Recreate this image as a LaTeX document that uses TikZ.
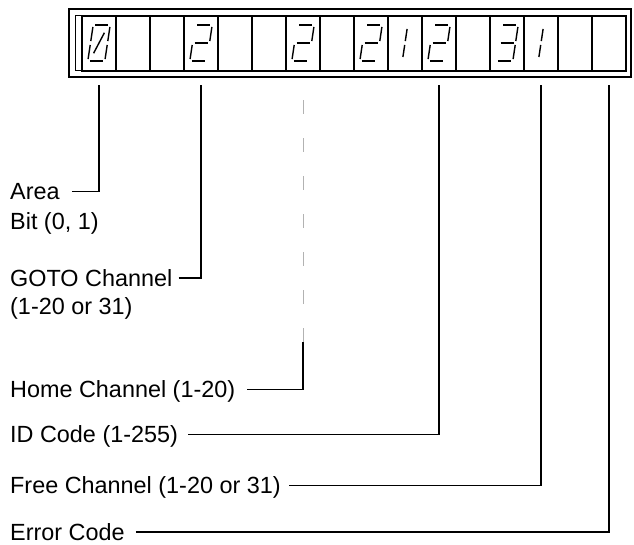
\documentclass[tikz,border=0pt]{standalone}
\usepackage{fontspec}
\setmainfont{Liberation Sans}

% seven segment digit in cell #1, segments #2
\newcommand{\ledigit}[2]{%
  \begin{scope}[shift={({99+34*#1-11.2},61)}, yscale=-1, xslant=-0.15]
    \coordinate (TL) at (0,36);   \coordinate (TR) at (17,36);
    \coordinate (ML) at (0,18);   \coordinate (MR) at (17,18);
    \coordinate (BL) at (0,0);    \coordinate (BR) at (17,0);
    \coordinate (TC) at (8.5,34); \coordinate (MC) at (8.5,18);
    \coordinate (BC) at (8.5,2);
    \coordinate (SL) at (4,6);    \coordinate (SR) at (13,30);
    \foreach \p/\q in {#2} \draw[seg] (\p) -- (\q);
  \end{scope}}

\begin{document}
\begin{tikzpicture}[x=1pt, y=-1pt,
    frame/.style={draw, line width=1.4pt},
    cell/.style={draw, line width=1.1pt, minimum width=34pt, minimum height=55pt, inner sep=0pt, outer sep=0pt},
    seg/.style={line width=1.4pt, shorten <=2pt, shorten >=2pt},
    lbl/.style={anchor=west, inner sep=0pt, text height=16.8pt, text depth=0pt, font=\fontsize{23.4}{28}\selectfont},
    lead/.style={line width=1.3pt},
    fadedlead/.style={line width=0.7pt, draw=gray!60, dash pattern=on 14pt off 24pt}]
  \useasboundingbox (0,0) rectangle (634,545);

  % Display panel
  \draw[frame] (69,9) rectangle (631,77);
  \draw[line width=1pt] (75,16) rectangle (626,71);
  \foreach \i in {0,...,15}
    \node[cell] (c\i) at ({99+34*\i},43.5) {};

  % Digits
  \ledigit{0}{TL/TR,TR/MR,MR/BR,BL/BR,BL/ML,ML/TL,SL/SR}
  \ledigit{3}{TL/TR,TR/MR,ML/MR,ML/BL,BL/BR}
  \ledigit{6}{TL/TR,TR/MR,ML/MR,ML/BL,BL/BR}
  \ledigit{8}{TL/TR,TR/MR,ML/MR,ML/BL,BL/BR}
  \ledigit{9}{TC/MC,MC/BC}
  \ledigit{10}{TL/TR,TR/MR,ML/MR,ML/BL,BL/BR}
  \ledigit{12}{TL/TR,TR/MR,ML/MR,MR/BR,BL/BR}
  \ledigit{13}{TC/MC,MC/BC}

  % Labels
  \node[lbl] (area) at (10,191.5) {Area};
  \node[lbl] (bit) at (10,221.5) {Bit (0, 1)};
  \node[lbl] (goto) at (10,278) {GOTO Channel};
  \node[lbl] (gotorange) at (10,306.5) {(1-20 or 31)};
  \node[lbl] (home) at (10,389.5) {Home Channel (1-20)};
  \node[lbl] (id) at (10,434.5) {ID Code (1-255)};
  \node[lbl] (free) at (10,485.5) {Free Channel (1-20 or 31)};
  \node[lbl] (error) at (10,532) {Error Code};

  % Leader lines
  \draw[lead] ([xshift=12pt]area.east) -| ([yshift=-14pt]c0.south);
  \draw[lead] ([xshift=6pt]goto.east) -| ([yshift=-14pt]c3.south);
  \draw[lead] ([xshift=12pt]home.east) -| ([yshift=-271pt]c6.south) coordinate (homebreak);
  \draw[fadedlead] (homebreak) -- ([yshift=-14pt]c6.south);
  \draw[lead] ([xshift=10pt]id.east) -| ([yshift=-14pt]c10.south);
  \draw[lead] ([xshift=8.5pt]free.east) -| ([yshift=-14pt]c13.south);
  \draw[lead] ([xshift=11pt]error.east) -| ([yshift=-14pt]c15.south);
\end{tikzpicture}
\end{document}
